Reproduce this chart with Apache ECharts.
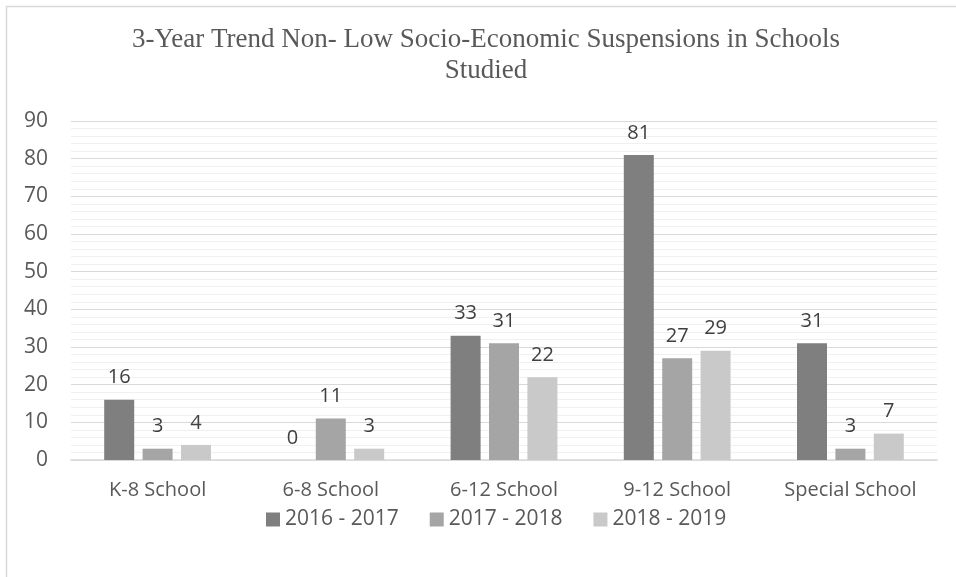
<!DOCTYPE html>
<html>
<head>
<meta charset="utf-8">
<script src="https://cdn.jsdelivr.net/npm/echarts@6/dist/echarts.min.js"></script>
<style>
  html, body { margin: 0; padding: 0; background: #fff; }
  #chart { width: 956px; height: 577px; }
</style>
</head>
<body>
<div id="chart"></div>
<script>
// School types on the x axis
var categories = ['K-8 School', '6-8 School', '6-12 School', '9-12 School', 'Special School'];
// Suspensions per school year
var year2016 = [16, 0, 33, 81, 31];
var year2017 = [3, 11, 31, 27, 3];
var year2018 = [4, 3, 22, 29, 7];
var seriesNames = ['2016 - 2017', '2017 - 2018', '2018 - 2019'];
var seriesColors = ['#7f7f7f', '#a5a5a5', '#c9c9c9'];

var chart = echarts.init(document.getElementById('chart'));

function barSeries(name, data, color) {
  return {
    name: name,
    type: 'bar',
    data: data,
    barWidth: 30,
    barGap: '28%',
    itemStyle: { color: color },
    label: {
      show: true,
      position: 'top',
      distance: 12,
      color: '#404040',
      fontFamily: 'Open Sans',
      fontSize: 20
    }
  };
}

chart.setOption({
  animation: false,
  backgroundColor: '#fff',
  graphic: [{
    type: 'rect',
    shape: { x: 6.5, y: 6.5, width: 980, height: 600 },
    style: { fill: 'none', stroke: '#d9d9d9', lineWidth: 1.5 },
    silent: true
  }],
  title: {
    text: '3-Year Trend Non- Low Socio-Economic Suspensions in Schools\nStudied',
    left: 481,
    top: 19,
    textAlign: 'center',
    textStyle: {
      fontFamily: 'Liberation Serif',
      fontWeight: 'normal',
      fontSize: 27,
      lineHeight: 31,
      color: '#595959'
    }
  },
  legend: {
    data: seriesNames,
    left: 261,
    top: 504,
    itemWidth: 14,
    itemHeight: 14,
    itemGap: 31,
    icon: 'rect',
    textStyle: { fontFamily: 'Open Sans', fontSize: 21, color: '#595959' }
  },
  grid: { left: 71, right: 19, top: 121, bottom: 117, containLabel: false },
  xAxis: {
    type: 'category',
    data: categories,
    axisTick: { show: false },
    axisLine: { lineStyle: { color: '#d9d9d9', width: 1.5 } },
    axisLabel: {
      margin: 20,
      fontFamily: 'Open Sans',
      fontSize: 20,
      color: '#595959'
    }
  },
  yAxis: {
    type: 'value',
    min: 0,
    max: 90,
    interval: 10,
    axisLine: { show: false },
    axisTick: { show: false },
    axisLabel: {
      margin: 23,
      fontFamily: 'Open Sans',
      fontSize: 21,
      color: '#595959'
    },
    splitLine: { lineStyle: { color: '#d9d9d9', width: 1.2 } },
    minorTick: { show: false, splitNumber: 5 },
    minorSplitLine: { show: true, lineStyle: { color: '#f0f0f0', width: 1.2 } }
  },
  series: [
    barSeries(seriesNames[0], year2016, seriesColors[0]),
    barSeries(seriesNames[1], year2017, seriesColors[1]),
    barSeries(seriesNames[2], year2018, seriesColors[2])
  ]
});
</script>
</body>
</html>
